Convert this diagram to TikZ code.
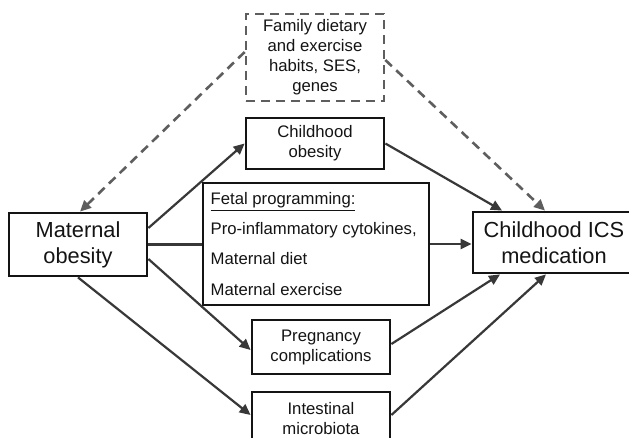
\documentclass[tikz,border=0pt]{standalone}
\usepackage{fontspec}
\setmainfont{Liberation Sans}
\usetikzlibrary{arrows.meta,calc}
\definecolor{boxc}{HTML}{141414}
\definecolor{arrc}{HTML}{383838}
\definecolor{dashc}{HTML}{5E5E5E}
\definecolor{txtc}{HTML}{141414}
\begin{document}
\begin{tikzpicture}[x=1pt,y=-1pt,
  box/.style={draw=boxc, line width=2.8pt, rectangle, inner sep=0pt, text=txtc, align=center,
    font=\fontsize{16.7}{20}\selectfont},
  bigbox/.style={box, font=\fontsize{21.8}{26}\selectfont},
  dbox/.style={box, draw=dashc, line width=2.6pt, dash pattern=on 9pt off 6pt},
  linetxt/.style={anchor=base west, inner sep=0pt, text=txtc, font=\fontsize{16.7}{20}\selectfont},
  arr/.style={draw=arrc, line width=2.2pt, -{Triangle[length=11pt,width=10pt]}},
  plainln/.style={draw=arrc, line width=2.2pt},
  darr/.style={draw=dashc, line width=2.6pt, dash pattern=on 9pt off 6pt, -{Triangle[length=11pt,width=10pt]}}
]
\useasboundingbox (0,0) rectangle (629,438);
\fill[white] (0,0) rectangle (629,438);

% boxes
\node[dbox, minimum width=138pt, minimum height=87pt] (fam) at (315,57.5)
  {Family dietary\\and exercise\\habits, SES,\\genes};
\node[box, minimum width=138pt, minimum height=51pt] (cob) at (315,143.5)
  {Childhood\\obesity};
\node[box, minimum width=226pt, minimum height=122pt] (fetal) at (316,244) {};
\node[linetxt] (fp1) at (210.5,205) {\underline{Fetal programming:}};
\node[linetxt] (fp2) at (210.5,235) {Pro-inflammatory cytokines,};
\node[linetxt] (fp3) at (210.5,265) {Maternal diet};
\node[linetxt] (fp4) at (210.5,296) {Maternal exercise};
\node[bigbox, minimum width=138pt, minimum height=63pt] (mat) at (78,244.5)
  {Maternal\\obesity};
\node[bigbox, minimum width=162pt, minimum height=61pt] (ics) at (554,242.5)
  {Childhood ICS\\medication};
\node[box, minimum width=138pt, minimum height=54pt] (preg) at (321,347)
  {Pregnancy\\complications};
\node[box, minimum width=138pt, minimum height=54pt] (intm) at (321,419)
  {Intestinal\\microbiota};

% connectors
\draw[arr] ($(mat.east)+(0,-16.5)$) -- (cob.west);
\draw[plainln] (mat.east) -- (mat.east -| fetal.west);
\draw[arr] (fetal.east) -- (fetal.east -| ics.west);
\draw[arr] ($(mat.east)+(0,14.5)$) -- ($(preg.west)+(0,3)$);
\draw[arr] (mat.south) -- ($(intm.west)+(0,-4)$);
\draw[arr] (cob.east) -- ($(ics.north)+(-52,0)$);
\draw[arr] ($(preg.east)+(0,-3)$) -- ($(ics.south)+(-54,0)$);
\draw[arr] ($(intm.east)+(0,-4)$) -- ($(ics.south)+(-8,0)$);
\draw[darr] ($(fam.west)+(0,-5.5)$) -- ($(mat.north)+(2,0)$);
\draw[darr] ($(fam.east)+(0,2.5)$) -- ($(ics.north)+(-9,0)$);
\end{tikzpicture}
\end{document}
